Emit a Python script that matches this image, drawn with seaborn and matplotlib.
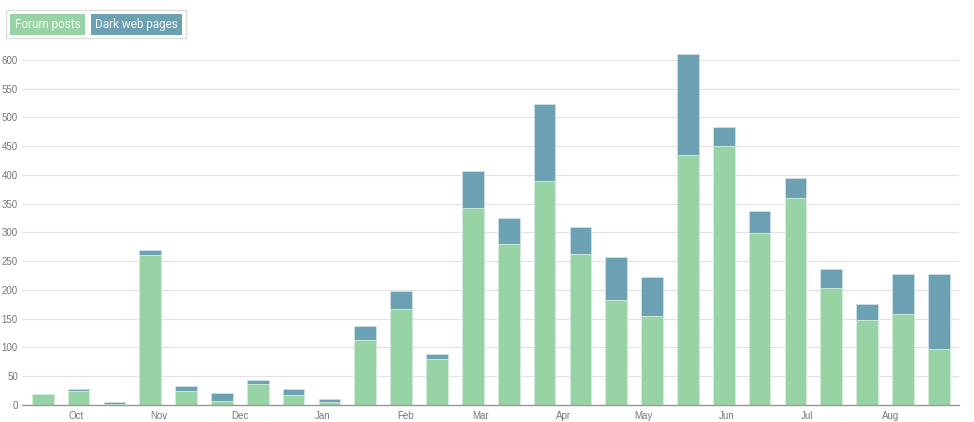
#!/usr/bin/env python3
import numpy as np
import matplotlib
matplotlib.use("Agg")
import matplotlib.pyplot as plt
from matplotlib.patches import Rectangle
import seaborn as sns
import pandas as pd

GREEN = '#98d3a6'
BLUE = '#6ca1b4'

# one bar per (roughly) two-week period, Sep -> Aug
PERIODS = [f"p{i:02d}" for i in range(26)]
FORUM_POSTS = [19, 24, 2, 260, 25, 7, 37, 18, 5, 113, 166, 80, 343,
               279, 390, 263, 182, 155, 434, 450, 299, 360, 203, 147, 158, 97]
DARK_WEB = [0, 3, 4, 10, 8, 13, 7, 10, 6, 24, 32, 9, 63,
            46, 133, 47, 75, 67, 176, 33, 39, 35, 33, 29, 70, 131]

MONTHS = ['Oct', 'Nov', 'Dec', 'Jan', 'Feb', 'Mar', 'Apr', 'May', 'Jun', 'Jul', 'Aug']
# month boundaries expressed in bar-index units
MONTH_TICKS = [0.94, 3.25, 5.49, 7.81, 10.13, 12.21, 14.53, 16.76, 19.09, 21.32, 23.65]

YTICKS = list(range(0, 601, 50))


def main():
    df = pd.DataFrame({
        'period': PERIODS,
        'forum': FORUM_POSTS,
        'dark': DARK_WEB,
    })
    df['total'] = df['forum'] + df['dark']

    sns.set_style('white')
    plt.rcParams['font.family'] = ['Liberation Sans', 'DejaVu Sans']

    fig = plt.figure(figsize=(9.74, 4.22), dpi=100)
    ax = fig.add_axes([22 / 974, 1 - 405 / 422, (959.5 - 22) / 974, (405 - 50) / 422])
    ax.set_axisbelow(True)

    # stacked look: total (dark web on top) drawn first, forum drawn over it
    sns.barplot(data=df, x='period', y='total', order=PERIODS, color=BLUE,
                saturation=1, width=0.605, edgecolor='#cfe0e7', linewidth=0.6,
                errorbar=None, ax=ax)
    sns.barplot(data=df, x='period', y='forum', order=PERIODS, color=GREEN,
                saturation=1, width=0.605, edgecolor='#d9efe0', linewidth=0.6,
                errorbar=None, ax=ax)

    ax.set_xlim(-0.58, len(PERIODS) - 1 + 0.58)
    ax.set_ylim(0, 617)
    ax.set_yticks(YTICKS)
    ax.set_yticklabels([str(t) for t in YTICKS])
    ax.set_xticks(MONTH_TICKS)
    ax.set_xticklabels(MONTHS)
    ax.tick_params(axis='both', labelsize=7, colors='#777777', length=0, pad=4)
    ax.tick_params(axis='y', pad=3)
    ax.grid(axis='y', color='#e3e3e3', linewidth=0.9)
    ax.set_xlabel('')
    ax.set_ylabel('')

    for side in ('top', 'right', 'left'):
        ax.spines[side].set_visible(False)
    ax.spines['bottom'].set_color('#999999')
    ax.spines['bottom'].set_linewidth(1.0)

    # html-style legend: coloured boxes with white labels inside a light frame
    fig.patches.append(Rectangle((6 / 974, 1 - 38 / 422), 180 / 974, 28 / 422,
                                 transform=fig.transFigure, fill=False,
                                 edgecolor='#dddddd', linewidth=1.0))
    fig.patches.append(Rectangle((10 / 974, 1 - 35 / 422), 75 / 974, 21 / 422,
                                 transform=fig.transFigure, facecolor=GREEN,
                                 edgecolor='none'))
    fig.patches.append(Rectangle((91 / 974, 1 - 35 / 422), 91 / 974, 21 / 422,
                                 transform=fig.transFigure, facecolor=BLUE,
                                 edgecolor='none'))
    fig.text(47.5 / 974, 1 - 24.5 / 422, 'Forum posts', color='#f4f8f5',
             fontsize=8.5, family=['Roboto', 'DejaVu Sans'], ha='center', va='center')
    fig.text(136.5 / 974, 1 - 24.5 / 422, 'Dark web pages', color='#f4f8f5',
             fontsize=8.5, family=['Roboto', 'DejaVu Sans'], ha='center', va='center')

    fig.savefig('out.png', dpi=100)
    plt.close()


if __name__ == '__main__':
    main()
